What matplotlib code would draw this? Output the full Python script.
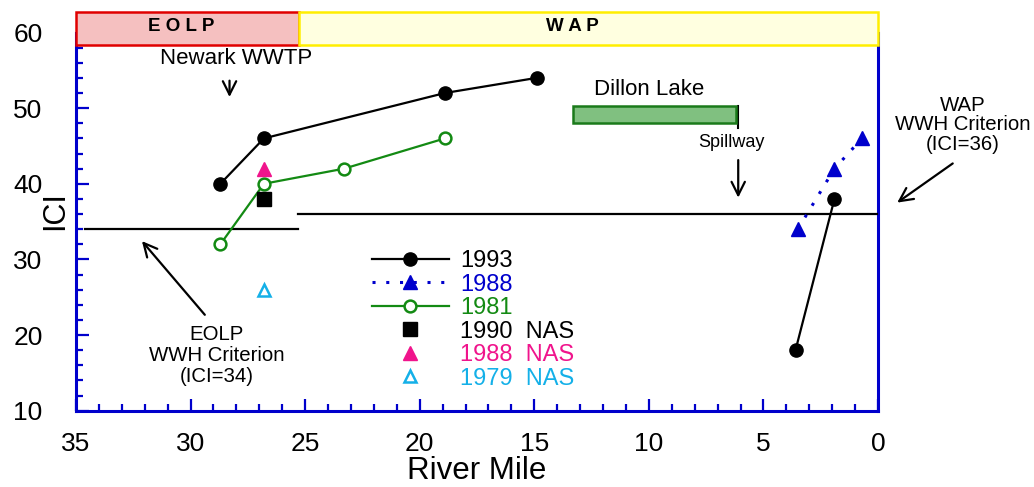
import matplotlib
matplotlib.use("Agg")
import matplotlib.pyplot as plt
from matplotlib.patches import Rectangle
from matplotlib.ticker import MultipleLocator

plt.rcParams["font.family"] = ["Liberation Sans", "DejaVu Sans"]

# ICI by river mile (NaN breaks the 1993 line between reaches)
mile_1993 = [28.7, 26.8, 18.9, 14.9, float("nan"), 3.6, 1.9]
ici_1993 = [40, 46, 52, 54, float("nan"), 18, 38]
mile_1988 = [3.5, 1.9, 0.7]
ici_1988 = [34, 42, 46]
mile_1981 = [28.7, 26.8, 23.3, 18.9]
ici_1981 = [32, 40, 42, 46]
mile_nas_1990 = [26.8]
ici_nas_1990 = [38]
mile_nas_1988 = [26.8]
ici_nas_1988 = [42]
mile_nas_1979 = [26.8]
ici_nas_1979 = [26]

# WWH criteria per reach: (from mile, to mile, ICI)
eolp_crit = (34.6, 25.3, 34)
wap_crit = (25.3, 0.0, 36)

# reach banners and Dillon Lake extent
eolp_reach = (35.0, 25.25)
wap_reach = (25.25, 0.0)
dillon_lake = (13.3, 6.2)

BLUE = "#0000cc"
GREEN = "#138a13"
PINK = "#f0148c"
CYAN = "#14b0e8"

fig = plt.figure(figsize=(10.34, 4.87), dpi=100)
ax = fig.add_axes([76 / 1034, 1 - 410.7 / 487, 802 / 1034, 378.2 / 487])

ax.plot(mile_1993, ici_1993, "-o", color="black", lw=1.6, ms=9.5, label="1993", zorder=4)
ax.plot(mile_1988, ici_1988, color=BLUE, ls=(0, (1, 3.5)), lw=2.2, marker="^", ms=10.5,
        label="1988", zorder=4)
ax.plot(mile_1981, ici_1981, "-o", color=GREEN, lw=1.6, ms=8.5, mfc="white", mew=1.8,
        label="1981", zorder=4)
ax.plot(mile_nas_1990, ici_nas_1990, "s", color="black", ms=10.5, ls="none",
        label="1990  NAS", zorder=4)
ax.plot(mile_nas_1988, ici_nas_1988, "^", color=PINK, ms=10.5, ls="none",
        label="1988  NAS", zorder=4)
ax.plot(mile_nas_1979, ici_nas_1979, "^", color=CYAN, mfc="white", mew=1.8, ms=9,
        ls="none", label="1979  NAS", zorder=4)

# criterion lines
for x0, x1, y in (eolp_crit, wap_crit):
    ax.plot([x0, x1], [y, y], color="black", lw=1.6, zorder=3)

ax.set_xlim(35, 0)
ax.set_ylim(10, 60)

# reach banners above the plot
for (x0, x1), fc, ec in [(eolp_reach, "#f5c0c0", "#e00000"),
                         (wap_reach, "#ffffe0", "#ffee00")]:
    ax.add_patch(Rectangle((x0, 58.35), x1 - x0, 4.35, fc=fc, ec=ec, lw=1.8,
                           clip_on=False, zorder=6))
ax.text(30.4, 60.85, "E O L P", ha="center", va="center", fontsize=13.5,
        fontweight="bold", zorder=7)
ax.text(13.35, 60.85, "W A P", ha="center", va="center", fontsize=13.5,
        fontweight="bold", zorder=7)

# Dillon Lake
ax.add_patch(Rectangle((dillon_lake[0], 48.0), dillon_lake[1] - dillon_lake[0], 2.3,
                       fc="#80c080", ec="#1a7a1a", lw=1.8, zorder=3))
ax.text(10.0, 52.4, "Dillon Lake", ha="center", va="center", fontsize=16)
ax.plot([6.1, 6.1], [50.3, 47.4], color="black", lw=1.5)
ax.text(6.4, 45.5, "Spillway", ha="center", va="center", fontsize=13)
arrow = dict(arrowstyle="->", color="black", lw=1.6, mutation_scale=24)
ax.annotate("", xy=(6.1, 37.8), xytext=(6.1, 43.5), arrowprops=arrow)

# Newark WWTP
ax.text(28.0, 56.6, "Newark WWTP", ha="center", va="center", fontsize=16)
ax.annotate("", xy=(28.3, 51.1), xytext=(28.3, 54.0), arrowprops=arrow)

# criterion labels
ax.text(28.85, 17.3, "EOLP\nWWH Criterion\n(ICI=34)", ha="center", va="center",
        fontsize=14.7, linespacing=1.15)
ax.annotate("", xy=(32.2, 32.7), xytext=(29.3, 22.4), arrowprops=arrow)
ax.text(-3.7, 47.8, "WAP\nWWH Criterion\n(ICI=36)", ha="center", va="center",
        fontsize=14.7, linespacing=1.04, clip_on=False)
ax.annotate("", xy=(-0.74, 37.3), xytext=(-3.36, 42.9), arrowprops=arrow,
            annotation_clip=False)

# axes styling
ax.spines["top"].set_visible(False)
for side in ("left", "bottom", "right"):
    ax.spines[side].set_color(BLUE)
    ax.spines[side].set_linewidth(2.2)
ax.xaxis.set_major_locator(MultipleLocator(5))
ax.xaxis.set_minor_locator(MultipleLocator(1))
ax.yaxis.set_major_locator(MultipleLocator(10))
ax.yaxis.set_minor_locator(MultipleLocator(2))
ax.tick_params(which="both", direction="in", color=BLUE, width=1.6,
               top=False, right=False, labelsize=19)
ax.tick_params(axis="x", which="major", length=9, pad=15.5)
ax.tick_params(axis="y", which="major", length=9, pad=24)
ax.tick_params(which="minor", length=5)

ax.set_xlabel("River Mile", fontsize=22.5)
ax.xaxis.set_label_coords(0.499, -0.16)
ax.xaxis.label.set_va("center")
ax.set_ylabel("ICI", fontsize=22)
ax.yaxis.set_label_coords(-0.026, 0.528)
ax.yaxis.label.set_va("center")

ax.legend(loc="upper left", bbox_to_anchor=(372 / 1034, 1 - 250 / 487),
          bbox_transform=fig.transFigure, frameon=False, fontsize=17,
          handlelength=3.26, handletextpad=0.47, labelspacing=0.065,
          borderpad=0, borderaxespad=0,
          labelcolor=["black", BLUE, GREEN, "black", PINK, CYAN])

fig.savefig("out.png", dpi=100)
